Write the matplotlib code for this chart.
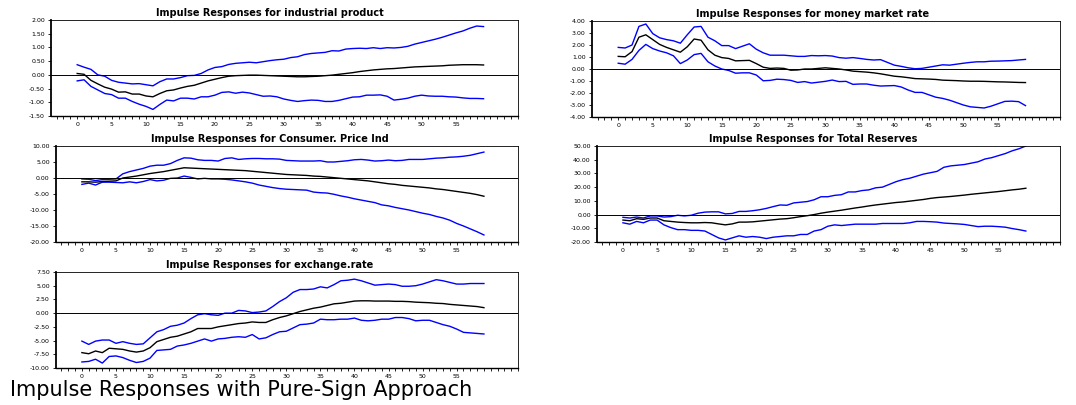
import numpy as np
import matplotlib
matplotlib.use("Agg")
import matplotlib.pyplot as plt
from matplotlib.ticker import FormatStrFormatter, MultipleLocator

# ── Data ─────────────────────────────────────────────────────────────────────
horizon = list(range(60))

ip_mid = [0.05, 0.02, -0.2, -0.33, -0.45, -0.52, -0.63, -0.62, -0.7, -0.7,
          -0.77, -0.8, -0.68, -0.58, -0.55, -0.48, -0.42, -0.38, -0.3, -0.22,
          -0.16, -0.1, -0.05, -0.03, -0.02, -0.01, -0.01, -0.02, -0.03, -0.04,
          -0.05, -0.06, -0.07, -0.07, -0.06, -0.05, -0.03, -0.01, 0.02, 0.05,
          0.08, 0.12, 0.15, 0.18, 0.2, 0.22, 0.23, 0.25, 0.27, 0.29,
          0.3, 0.31, 0.32, 0.33, 0.35, 0.36, 0.37, 0.37, 0.37, 0.36]
ip_hi = [0.37, 0.28, 0.2, 0.0, -0.05, -0.2, -0.27, -0.3, -0.33, -0.32,
         -0.36, -0.4, -0.25, -0.15, -0.15, -0.1, -0.03, -0.02, 0.05, 0.18,
         0.27, 0.3, 0.38, 0.42, 0.44, 0.46, 0.44, 0.48, 0.52, 0.55,
         0.57, 0.63, 0.66, 0.74, 0.78, 0.8, 0.82, 0.88, 0.87, 0.94,
         0.96, 0.97, 0.96, 0.99, 0.96, 0.99, 0.98, 1.0, 1.04, 1.12,
         1.18, 1.24, 1.3, 1.37, 1.45, 1.53, 1.6, 1.7, 1.78, 1.76]
ip_lo = [-0.22, -0.18, -0.42, -0.55, -0.68, -0.72, -0.85, -0.85, -0.97, -1.07,
         -1.15, -1.26, -1.08, -0.92, -0.95, -0.85, -0.85, -0.88, -0.8, -0.8,
         -0.74, -0.64, -0.62, -0.67, -0.63, -0.66, -0.72, -0.78, -0.77, -0.8,
         -0.88, -0.93, -0.97, -0.94, -0.92, -0.93, -0.97, -0.97, -0.93, -0.87,
         -0.81, -0.8, -0.74, -0.74, -0.73, -0.78, -0.92, -0.89, -0.85, -0.78,
         -0.74, -0.77, -0.78, -0.78, -0.8, -0.81, -0.84, -0.86, -0.86, -0.87]

mm_mid = [1.05, 1.02, 1.45, 2.65, 2.85, 2.45, 2.05, 1.8, 1.6, 1.4,
          1.85, 2.5, 2.4, 1.6, 1.15, 0.95, 0.88, 0.68, 0.7, 0.72,
          0.45, 0.15, 0.05, 0.08, 0.05, -0.1, -0.08, 0.0, 0.0, 0.05,
          0.1, 0.05, 0.0, -0.08, -0.18, -0.22, -0.26, -0.32, -0.4, -0.5,
          -0.6, -0.65, -0.72, -0.8, -0.82, -0.84, -0.87, -0.93, -0.95, -0.97,
          -1.0, -1.02, -1.02, -1.03, -1.05, -1.07, -1.08, -1.1, -1.12, -1.13]
mm_hi = [1.8, 1.75, 2.0, 3.55, 3.75, 2.95, 2.6, 2.45, 2.35, 2.15,
         2.85, 3.5, 3.55, 2.65, 2.35, 1.95, 1.95, 1.7, 1.9, 2.1,
         1.65, 1.35, 1.15, 1.15, 1.15, 1.1, 1.05, 1.05, 1.12, 1.1,
         1.12, 1.08, 0.95, 0.9, 0.95, 0.88, 0.8, 0.75, 0.78, 0.55,
         0.32, 0.22, 0.1, 0.02, 0.05, 0.15, 0.25, 0.35, 0.32, 0.4,
         0.48, 0.55, 0.6, 0.6, 0.65, 0.66, 0.68, 0.7, 0.75, 0.8]
mm_lo = [0.48, 0.4, 0.8, 1.55, 2.05, 1.7, 1.5, 1.35, 1.1, 0.45,
         0.75, 1.2, 1.3, 0.6, 0.25, 0.0, -0.12, -0.35, -0.32, -0.32,
         -0.5, -0.98, -0.95, -0.85, -0.88, -0.95, -1.12, -1.05, -1.17, -1.1,
         -1.03, -0.92, -1.05, -1.03, -1.28, -1.25, -1.25, -1.35, -1.42, -1.4,
         -1.38, -1.5, -1.75, -1.95, -1.95, -2.15, -2.35, -2.45, -2.6, -2.8,
         -3.0, -3.15, -3.2, -3.25, -3.1, -2.9, -2.7, -2.68, -2.72, -3.05]

cpi_mid = [-1.2, -1.2, -1.3, -1.1, -1.0, -0.9, 0.0, 0.3, 0.6, 1.0,
           1.4, 1.7, 2.0, 2.4, 2.8, 3.2, 3.1, 3.0, 2.9, 2.8,
           2.7, 2.6, 2.5, 2.4, 2.3, 2.1, 1.9, 1.7, 1.5, 1.3,
           1.1, 1.0, 0.9, 0.8, 0.6, 0.5, 0.3, 0.1, -0.1, -0.3,
           -0.5, -0.7, -0.9, -1.2, -1.5, -1.8, -2.0, -2.3, -2.5, -2.7,
           -2.9, -3.1, -3.4, -3.6, -3.9, -4.2, -4.5, -4.8, -5.2, -5.7]
cpi_hi = [-0.3, -0.4, -0.8, -0.5, -0.4, -0.3, 1.3, 2.0, 2.5, 3.0,
          3.7, 4.0, 4.0, 4.5, 5.5, 6.3, 6.2, 5.7, 5.5, 5.5,
          5.3, 6.1, 6.3, 5.8, 6.0, 6.1, 6.1, 6.0, 6.0, 5.9,
          5.5, 5.4, 5.3, 5.3, 5.3, 5.4, 5.0, 5.0, 5.2, 5.4,
          5.7, 5.8, 5.6, 5.3, 5.4, 5.6, 5.4, 5.5, 5.8, 5.8,
          5.8, 6.0, 6.2, 6.3, 6.5, 6.6, 6.8, 7.1, 7.6, 8.1]
cpi_lo = [-2.0, -1.6, -2.2, -1.3, -1.3, -1.4, -1.5, -1.2, -1.5, -1.1,
          -0.5, -0.9, -0.7, -0.1, 0.0, 0.6, 0.2, -0.3, -0.1, -0.3,
          -0.3, -0.4, -0.6, -0.9, -1.2, -1.6, -2.2, -2.6, -3.0, -3.3,
          -3.5, -3.6, -3.7, -3.8, -4.4, -4.6, -4.7, -5.1, -5.6, -6.0,
          -6.5, -6.9, -7.3, -7.7, -8.4, -8.7, -9.2, -9.6, -10.0, -10.5,
          -11.0, -11.4, -12.0, -12.5, -13.2, -14.2, -15.0, -15.9, -16.8, -17.8]

tr_mid = [-4, -4.5, -3, -3.5, -2.5, -2.5, -4.5, -5, -5.5, -5.8,
          -6, -6, -5.8, -6, -6.8, -7.5, -6.8, -5.5, -5.5, -5.3,
          -4.8, -4.3, -3.8, -3.3, -3, -2.3, -1.5, -0.8, 0, 1,
          1.8, 2.5, 3.2, 4, 4.8, 5.5, 6.3, 7, 7.6, 8.2,
          8.8, 9.2, 9.8, 10.4, 11, 11.8, 12.4, 12.8, 13.2, 13.7,
          14.2, 14.8, 15.3, 15.8, 16.3, 16.8, 17.4, 18, 18.5, 19.2]
tr_hi = [-2, -2.5, -1.8, -2.5, -1, -1, -1.8, -1.5, -0.5, -1,
         -0.5, 1, 1.8, 2, 2, 0.5, 0.8, 2.3, 2.3, 2.8,
         3.5, 4.5, 5.8, 7, 6.8, 8.5, 9, 9.5, 10.8, 13,
         13, 14, 14.5, 16.5, 16.5, 17.5, 18, 19.5, 20, 22,
         24, 25.5, 26.5, 28, 29.5, 30.5, 31.5, 34.5, 35.5, 36,
         36.5, 37.5, 38.5, 40.5, 41.5, 43, 44.5, 46.5, 48, 50]
tr_lo = [-6, -7, -5, -6, -4, -4, -7.5, -9.5, -11, -11,
         -11.5, -11.5, -12, -14.5, -17, -18.5, -17, -15.5, -16.5, -16,
         -16.5, -17.5, -16.5, -16, -15.5, -15.5, -14.5, -14.5, -12, -11,
         -8.5, -7.5, -8, -7.5, -7, -7, -7, -7, -6.5, -6.5,
         -6.5, -6.5, -6, -5, -5, -5.2, -5.5, -6.2, -6.5, -6.8,
         -7.2, -8, -8.8, -8.5, -8.5, -8.8, -9.2, -10.2, -11, -12]

er_mid = [-7.2, -7.4, -6.9, -7.2, -6.4, -6.5, -6.6, -6.9, -7.1, -6.9,
          -6.3, -5.2, -4.8, -4.4, -4.2, -3.8, -3.4, -2.8, -2.8, -2.8,
          -2.5, -2.3, -2.1, -1.9, -1.8, -1.6, -1.7, -1.7, -1.2, -0.8,
          -0.5, -0.1, 0.3, 0.6, 0.9, 1.1, 1.4, 1.7, 1.8, 2.0,
          2.2, 2.25, 2.25, 2.2, 2.2, 2.2, 2.15, 2.15, 2.1, 2.0,
          1.95, 1.9, 1.8, 1.75, 1.6, 1.5, 1.4, 1.3, 1.2, 1.0]
er_hi = [-5.1, -5.7, -5.1, -4.9, -4.9, -5.5, -5.2, -5.5, -5.7, -5.6,
         -4.5, -3.4, -3.0, -2.4, -2.2, -1.8, -1.0, -0.3, -0.1, -0.3,
         -0.4, 0.0, 0.0, 0.5, 0.4, 0.1, 0.2, 0.4, 1.2, 2.1,
         2.8, 3.8, 4.3, 4.3, 4.4, 4.8, 4.6, 5.2, 5.9, 6.0,
         6.2, 5.9, 5.5, 5.1, 5.2, 5.3, 5.2, 4.9, 4.9, 5.0,
         5.3, 5.7, 6.1, 5.9, 5.6, 5.3, 5.3, 5.4, 5.4, 5.4]
er_lo = [-8.9, -8.8, -8.4, -9.1, -7.9, -7.8, -8.1, -8.6, -9.0, -8.8,
         -8.2, -6.8, -6.7, -6.6, -6.0, -5.8, -5.5, -5.1, -4.7, -5.1,
         -4.7, -4.6, -4.4, -4.3, -4.4, -3.9, -4.7, -4.5, -3.9, -3.4,
         -3.3, -2.7, -2.1, -2.0, -1.8, -1.1, -1.2, -1.2, -1.1, -1.1,
         -0.9, -1.3, -1.4, -1.3, -1.1, -1.1, -0.8, -0.8, -1.0, -1.4,
         -1.3, -1.3, -1.7, -2.1, -2.4, -2.9, -3.5, -3.6, -3.7, -3.8]

titles = ["Impulse Responses for industrial product",
          "Impulse Responses for money market rate",
          "Impulse Responses for Consumer. Price Ind",
          "Impulse Responses for Total Reserves",
          "Impulse Responses for exchange.rate"]
ylims = [(-1.5, 2.0), (-4.0, 4.0), (-20.0, 10.0), (-20.0, 50.0), (-10.0, 7.5)]
ysteps = [0.5, 1.0, 5.0, 10.0, 2.5]
panels = [(ip_lo, ip_mid, ip_hi), (mm_lo, mm_mid, mm_hi),
          (cpi_lo, cpi_mid, cpi_hi), (tr_lo, tr_mid, tr_hi),
          (er_lo, er_mid, er_hi)]

# ── Layout (pixel boxes: left, right, top, bottom) ───────────────────────────
W, H = 1076, 405
boxes = [(51, 518, 20, 116), (592, 1060, 21, 117),
         (56, 518, 146, 242), (597, 1060, 146, 242),
         (56, 518, 272, 368)]
# titles sit centred over the panel plus its tick labels
title_cx = [270, 813, 270, 813, 270]

fig = plt.figure(figsize=(W / 100, H / 100), dpi=100)

for (l, r, t, b), cx, title, ylim, ystep, (lo, mid, hi) in zip(
        boxes, title_cx, titles, ylims, ysteps, panels):
    ax = fig.add_axes([l / W, (H - b) / H, (r - l) / W, (b - t) / H])
    ax.plot(horizon, hi, color="#0000FF", lw=1.0)
    ax.plot(horizon, lo, color="#0000FF", lw=1.0)
    ax.plot(horizon, mid, color="black", lw=1.0)
    ax.axhline(0, color="black", lw=0.7)
    ax.set_xlim(-3.8, 64)
    ax.set_ylim(*ylim)
    ax.yaxis.set_major_locator(MultipleLocator(ystep))
    ax.yaxis.set_major_formatter(FormatStrFormatter("%.2f"))
    ax.xaxis.set_minor_locator(MultipleLocator(1))
    ax.set_xticks(range(0, 56, 5))
    ax.tick_params(axis="both", which="both", labelsize=4.5, length=2.5,
                   width=0.6, pad=2, colors="black")
    for side in ["top", "right"]:
        ax.spines[side].set_linewidth(0.6)
    ax.spines["left"].set_linewidth(1.3)
    ax.spines["bottom"].set_linewidth(1.0)
    ax.set_title(title, fontsize=7, fontweight="bold", pad=3,
                 x=(cx - l) / (r - l))

fig.text(10 / W, (H - 396) / H, "Impulse Responses with Pure-Sign Approach",
         fontsize=15, family="DejaVu Sans", ha="left", va="baseline")

fig.savefig("out.png", dpi=100)
